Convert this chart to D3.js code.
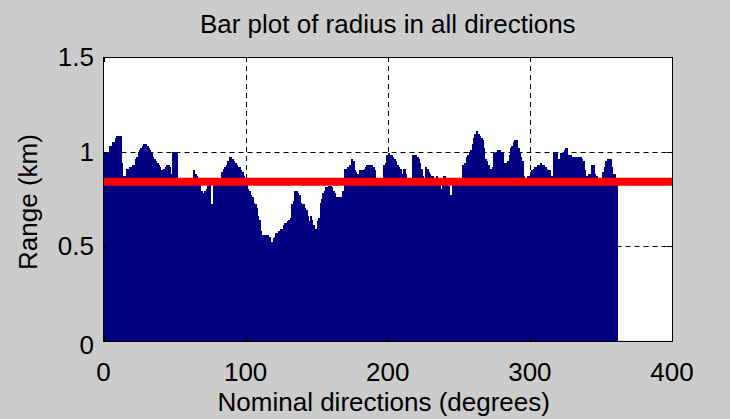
<!DOCTYPE html>
<html>
<head>
<meta charset="UTF-8">
<style>
  body { margin: 0; background: #cccccc; }
  svg text { font-family: "Liberation Sans", Arial, sans-serif; fill: #000; }
</style>
</head>
<body>
<script src="https://d3js.org/d3.v7.min.js"></script>
<script>
// range per nominal direction, degrees 0..360
var radius = [
  0.99,0.99,0.99,0.99,1.03,1.03,1.05,1.05,1.07,1.08,1.08,1.08,0.94,0.87,0.87,0.84,0.91,0.91,0.92,0.92,
  0.93,0.93,0.96,0.97,1.00,1.01,1.02,1.03,1.04,1.04,1.03,1.02,1.01,1.00,0.97,0.96,0.95,0.94,0.93,0.92,
  0.90,0.88,0.91,0.92,0.93,0.93,0.92,0.88,1.00,1.00,1.00,1.00,0.86,0.79,0.84,0.85,0.84,0.85,0.84,0.84,
  0.85,0.84,0.85,0.90,0.88,0.87,0.84,0.84,0.79,0.78,0.78,0.79,0.80,0.82,0.83,0.72,0.72,0.82,0.84,0.84,
  0.84,0.85,0.86,0.89,0.91,0.92,0.93,0.95,0.97,0.97,0.96,0.95,0.94,0.93,0.92,0.92,0.90,0.89,0.87,0.86,
  0.84,0.80,0.79,0.77,0.76,0.73,0.72,0.70,0.66,0.64,0.58,0.56,0.56,0.56,0.56,0.56,0.55,0.52,0.52,0.54,
  0.55,0.57,0.57,0.58,0.59,0.59,0.61,0.62,0.62,0.63,0.64,0.65,0.72,0.74,0.79,0.79,0.78,0.77,0.73,0.72,
  0.72,0.70,0.69,0.66,0.63,0.66,0.64,0.61,0.59,0.59,0.63,0.65,0.73,0.75,0.78,0.79,0.81,0.81,0.82,0.82,
  0.81,0.79,0.78,0.76,0.76,0.76,0.76,0.76,0.79,0.91,0.91,0.92,0.92,0.93,0.96,0.95,0.90,0.89,0.88,0.88,
  0.90,0.89,0.90,0.91,0.92,0.93,0.93,0.93,0.93,0.92,0.90,0.86,0.85,0.85,0.85,0.85,0.85,0.93,0.94,0.98,
  0.99,0.98,0.98,0.97,0.96,0.95,0.93,0.92,0.91,0.88,0.87,0.91,0.88,0.85,0.85,0.80,0.85,0.98,0.98,0.98,
  0.97,0.96,0.94,0.91,0.87,0.86,0.92,0.91,0.89,0.88,0.87,0.87,0.86,0.86,0.87,0.86,0.85,0.80,0.86,0.87,
  0.86,0.85,0.82,0.77,0.77,0.84,0.84,0.85,0.84,0.84,0.85,0.85,0.93,0.93,0.94,0.97,0.98,1.00,1.01,1.04,
  1.07,1.09,1.11,1.09,1.08,1.07,1.06,1.02,0.96,0.95,0.93,0.91,0.91,0.92,0.99,0.99,1.00,1.01,1.01,1.00,
  0.99,0.94,0.94,0.94,0.95,0.98,1.02,1.03,1.05,1.06,1.06,1.02,1.00,0.97,0.95,0.87,0.85,0.85,0.87,0.87,
  0.89,0.90,0.91,0.92,0.92,0.93,0.93,0.94,0.93,0.93,0.92,0.91,0.90,0.90,0.87,0.87,1.00,0.99,0.99,0.96,
  0.96,0.99,0.99,1.00,1.01,1.02,0.97,0.98,0.98,0.97,0.97,0.97,0.97,0.97,0.97,0.97,0.96,0.95,0.90,0.87,
  0.87,0.88,0.88,0.93,0.93,0.88,0.87,0.86,0.86,0.86,0.86,0.89,0.92,0.95,0.96,0.96,0.96,0.92,0.88,0.88,
  0.86
];
var meanRange = 0.84;
var xTicks = [0, 100, 200, 300, 400];
var yTicks = [0, 0.5, 1, 1.5];
var yTickLabels = ["0", "0.5", "1", "1.5"];
var title = "Bar plot of radius in all directions";
var xLabel = "Nominal directions (degrees)";
var yLabel = "Range (km)";

(function() {
    var width = 730, height = 419;
    var pLeft = 103.5, pRight = 672, pTop = 57, pBottom = 340.5;

    var svg = d3.select("body").append("svg").attr("width", width).attr("height", height);
    svg.append("rect").attr("width", width).attr("height", height).attr("fill", "#cccccc");

    var x = d3.scaleLinear().domain([0, 400]).range([pLeft, pRight]);
    var y = d3.scaleLinear().domain([0, 1.5]).range([pBottom, pTop]);

    svg.append("rect")
        .attr("x", pLeft).attr("y", pTop)
        .attr("width", pRight - pLeft).attr("height", pBottom - pTop)
        .attr("fill", "#fff");

    // dashed grid, under the bars
    var grid = svg.append("g").attr("stroke", "#000").attr("stroke-width", 1).attr("stroke-dasharray", "5,4");
    grid.selectAll(".gx").data(xTicks.slice(1, -1)).enter().append("line")
        .attr("x1", function(d) { return Math.round(x(d)) + 0.5; })
        .attr("x2", function(d) { return Math.round(x(d)) + 0.5; })
        .attr("y1", pTop).attr("y2", pBottom);
    grid.selectAll(".gy").data(yTicks.slice(1, -1)).enter().append("line")
        .attr("y1", function(d) { return Math.round(y(d)) + 0.5; })
        .attr("y2", function(d) { return Math.round(y(d)) + 0.5; })
        .attr("x1", pLeft).attr("x2", pRight);

    // bars (overlapping a little so no seams show between them)
    svg.append("g").attr("shape-rendering", "crispEdges")
        .selectAll("rect").data(radius).enter().append("rect")
        .attr("x", function(d, i) { return x(i); })
        .attr("width", function(d, i) { return x(i + 1) - x(i) + 1; })
        .attr("y", function(d) { return y(d); })
        .attr("height", function(d) { return y(0) - y(d); })
        .attr("fill", "#000080");

    // mean line
    svg.append("line")
        .attr("x1", x(0)).attr("x2", x(400))
        .attr("y1", y(meanRange)).attr("y2", y(meanRange))
        .attr("stroke", "#ff0000").attr("stroke-width", 8);

    // axes box and ticks
    var ax = svg.append("g").attr("stroke", "#000").attr("stroke-width", 1).attr("fill", "none");
    ax.append("rect")
        .attr("x", Math.round(pLeft) - 0.5).attr("y", pTop + 0.5)
        .attr("width", Math.round(pRight - pLeft)).attr("height", Math.round(pBottom - pTop));
    var tl = 5;
    xTicks.forEach(function(t) {
        var px = Math.round(x(t)) + 0.5;
        ax.append("line").attr("x1", px).attr("x2", px).attr("y1", pBottom).attr("y2", pBottom - tl);
        ax.append("line").attr("x1", px).attr("x2", px).attr("y1", pTop).attr("y2", pTop + tl);
    });
    yTicks.forEach(function(t) {
        var py = Math.round(y(t)) + 0.5;
        ax.append("line").attr("y1", py).attr("y2", py).attr("x1", pLeft).attr("x2", pLeft + tl);
        ax.append("line").attr("y1", py).attr("y2", py).attr("x1", pRight).attr("x2", pRight - tl);
    });

    var fs = 26;
    svg.selectAll(".xt").data(xTicks).enter().append("text")
        .attr("x", function(d) { return x(d); })
        .attr("y", 381)
        .attr("text-anchor", "middle")
        .style("font-size", fs + "px")
        .text(function(d) { return d; });

    svg.selectAll(".yt").data(yTicks).enter().append("text")
        .attr("x", 94)
        .attr("y", function(d) { return y(d) + (d === 0 ? 13 : 9); })
        .attr("text-anchor", "end")
        .style("font-size", fs + "px")
        .text(function(d, i) { return yTickLabels[i]; });

    svg.append("text")
        .attr("x", (pLeft + pRight) / 2).attr("y", 33)
        .attr("text-anchor", "middle")
        .style("font-size", fs + "px")
        .text(title);

    svg.append("text")
        .attr("x", (pLeft + pRight) / 2 - 4).attr("y", 411)
        .attr("text-anchor", "middle")
        .style("font-size", fs + "px")
        .text(xLabel);

    svg.append("text")
        .attr("transform", "translate(37,202) rotate(-90)")
        .attr("text-anchor", "middle")
        .style("font-size", fs + "px")
        .text(yLabel);
})();
</script>
</body>
</html>
